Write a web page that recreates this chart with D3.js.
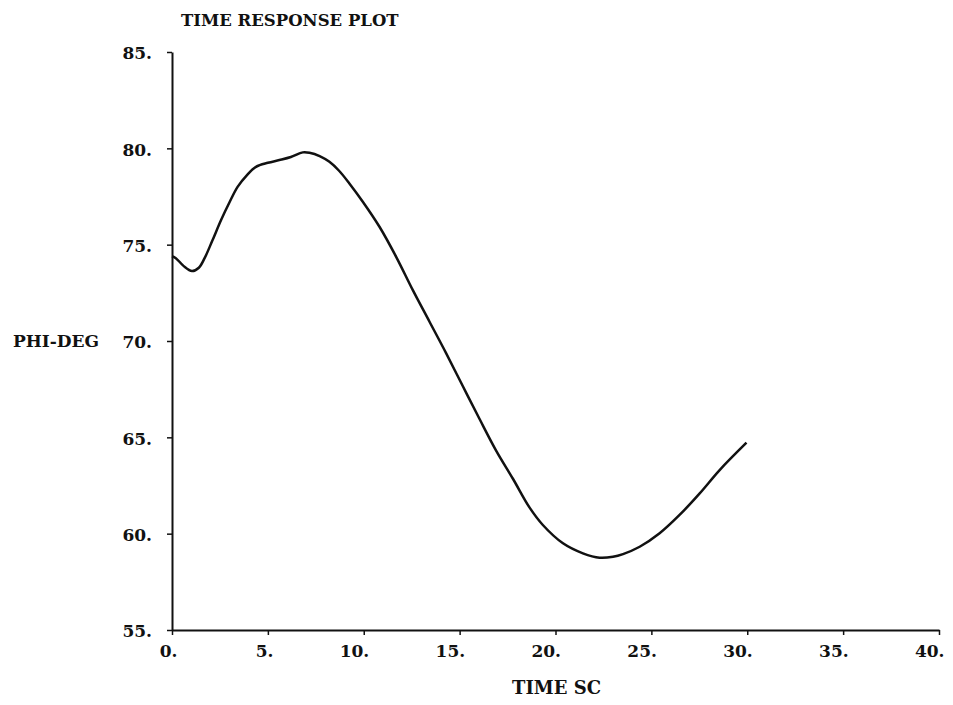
<!DOCTYPE html>
<html>
<head>
<meta charset="utf-8">
<script src="https://cdn.jsdelivr.net/npm/d3@7"></script>
<style>
  html, body { margin: 0; padding: 0; background: #fff; }
  svg text { font-family: "DejaVu Serif", "Liberation Serif", serif; font-weight: bold; fill: #111; }
</style>
</head>
<body>
<svg id="chart"></svg>
<script>
// ----------------------------------
// Data
// ----------------------------------
const timeSec = [0, 0.2, 0.6, 1.04, 1.4, 1.7, 2.1, 2.56, 3.0, 3.42, 3.9, 4.38, 5.0, 5.6, 6.2, 6.82, 7.17,
  7.7, 8.21, 8.7, 9.25, 9.95, 10.82, 11.69, 12.56, 13.43, 14.3, 15.17, 16.04, 16.91, 17.78,
  18.65, 19.34, 20.39, 21.43, 22.3, 23.0, 23.52, 24.39, 25.43, 26.47, 27.52, 28.56, 29.96];
const phiDeg = [74.4, 74.3, 73.9, 73.63, 73.8, 74.3, 75.2, 76.28, 77.2, 78.0, 78.6, 79.04, 79.25, 79.39,
  79.55, 79.79, 79.77, 79.6, 79.3, 78.85, 78.18, 77.23, 75.93, 74.37, 72.64, 71.0, 69.36, 67.65, 65.95,
  64.3, 62.85, 61.35, 60.45, 59.5, 58.98, 58.75, 58.8, 58.94, 59.32, 60.02, 60.97, 62.09, 63.3, 64.72];

const xTicks = [0, 5, 10, 15, 20, 25, 30, 35, 40];
const yTicks = [55, 60, 65, 70, 75, 80, 85];

const titleText = "TIME RESPONSE PLOT";
const xLabel = "TIME SC";
const yLabel = "PHI-DEG";

// ----------------------------------
// Setup
// ----------------------------------
const width = 953, height = 705;
const svg = d3.select("#chart").attr("width", width).attr("height", height);

const x = d3.scaleLinear().domain([0, 40]).range([172, 939]);
const y = d3.scaleLinear().domain([55, 85]).range([630, 52]);

// tick labels end with a period, like the plotter output
const fmt = d => d + ".";

const xAxis = svg.append("g")
  .attr("transform", `translate(0,${y(55)})`)
  .call(d3.axisBottom(x).tickValues(xTicks).tickFormat(fmt).tickSize(5).tickPadding(10).tickSizeOuter(0));

const yAxis = svg.append("g")
  .attr("transform", `translate(${x(0)},0)`)
  .call(d3.axisLeft(y).tickValues(yTicks).tickFormat(fmt).tickSize(5).tickPadding(15).tickSizeOuter(0));

[xAxis, yAxis].forEach(g => {
  g.select(".domain").attr("stroke", "#111").attr("stroke-width", 2);
  g.selectAll(".tick line").attr("stroke", "#111").attr("stroke-width", 1.5);
  g.selectAll(".tick text")
    .style("font-size", "17px")
    .style("font-family", "DejaVu Serif")
    .style("font-weight", "bold")
    .attr("fill", "#111");
});

// x labels sit just left of their tick
xAxis.selectAll(".tick text").attr("text-anchor", "end").attr("x", 5).attr("dy", "0.71em");
yAxis.selectAll(".tick text").attr("dy", "0.4em");

// ----------------------------------
// Curve
// ----------------------------------
const pts = timeSec.map((t, i) => [t, phiDeg[i]]);
const line = d3.line()
  .x(d => x(d[0]))
  .y(d => y(d[1]))
  .curve(d3.curveCatmullRom.alpha(0.5));

svg.append("path")
  .datum(pts)
  .attr("d", line)
  .attr("fill", "none")
  .attr("stroke", "#111")
  .attr("stroke-width", 2.5)
  .attr("stroke-linejoin", "round");

// ----------------------------------
// Titles
// ----------------------------------
svg.append("text").attr("x", 181).attr("y", 26).style("font-size", "16.5px").text(titleText);
svg.append("text").attr("x", 512).attr("y", 694).style("font-size", "18px").text(xLabel);
svg.append("text").attr("x", 13).attr("y", 347).style("font-size", "17px").text(yLabel);
</script>
</body>
</html>
